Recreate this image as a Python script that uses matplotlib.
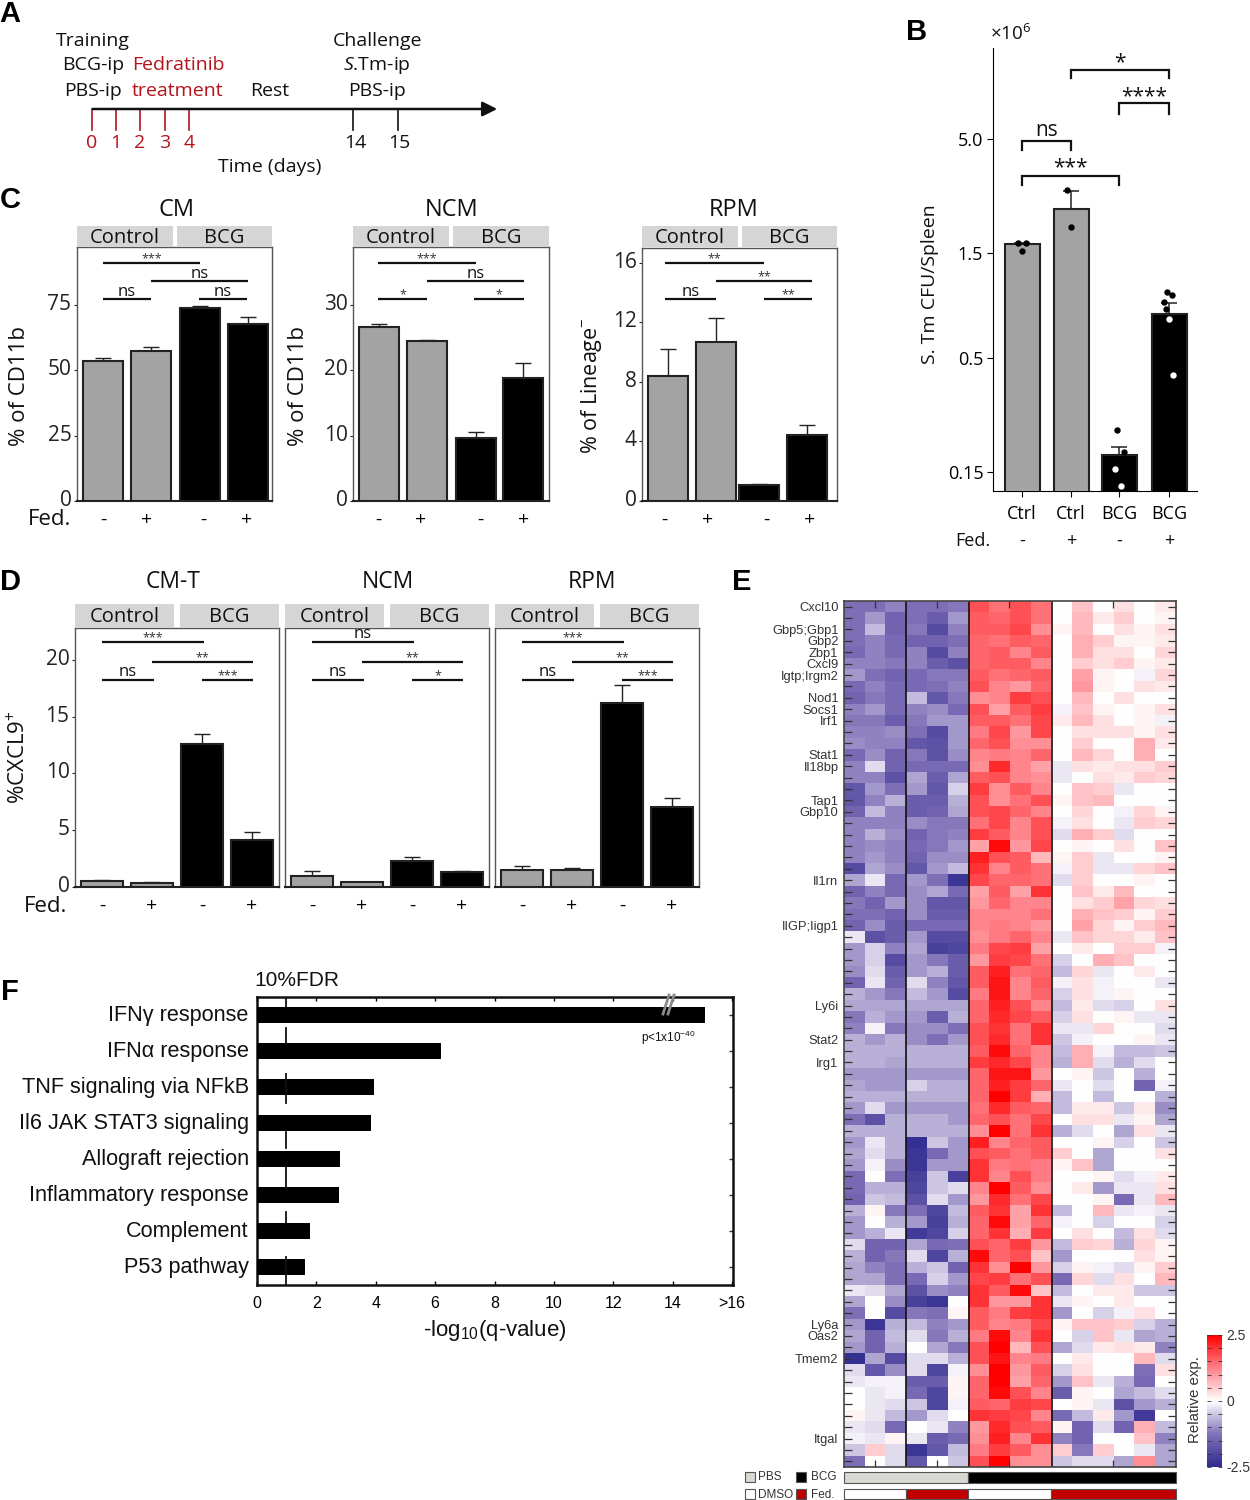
import numpy as np
import matplotlib
matplotlib.use('Agg')
import matplotlib.pyplot as plt
from matplotlib.colors import LinearSegmentedColormap
from matplotlib.patches import Rectangle
from matplotlib.transforms import ScaledTranslation

W, H = 1250, 1500

# panel B
b_labels = ['Ctrl', 'Ctrl', 'BCG', 'BCG']
b_means = [1.64, 2.39, 0.170, 0.78]
b_tops = [1.67, 2.89, 0.194, 0.885]
b_points = [[1.68, 1.68, 1.54], [2.92, 1.97], [0.234, 0.184, 0.154, 0.129],
            [0.995, 0.966, 0.902, 0.838, 0.75, 0.416]]

# panel C
cm_means = [53.5, 57.4, 73.8, 67.7]
cm_tops = [54.7, 59.0, 74.6, 70.5]
ncm_means = [26.7, 24.5, 9.6, 18.9]
ncm_tops = [27.1, 24.7, 10.55, 21.1]
rpm_means = [8.4, 10.7, 1.05, 4.44]
rpm_tops = [10.2, 12.3, 1.12, 5.13]

# panel D
cmt_d_means = [0.53, 0.38, 12.6, 4.1]
cmt_d_tops = [0.58, 0.40, 13.5, 4.8]
ncm_d_means = [0.95, 0.41, 2.3, 1.3]
ncm_d_tops = [1.42, 0.45, 2.63, 1.38]
rpm_d_means = [1.48, 1.48, 16.2, 7.06]
rpm_d_tops = [1.83, 1.68, 17.8, 7.83]

# panel F
f_terms = ['IFN\u03b3 response', 'IFN\u03b1 response', 'TNF signaling via NFkB',
           'Il6 JAK STAT3 signaling', 'Allograft rejection',
           'Inflammatory response', 'Complement', 'P53 pathway']
f_values = [15.1, 6.2, 3.95, 3.85, 2.8, 2.77, 1.77, 1.62]

# panel E, relative expression x10, columns PBS/DMSO, PBS/Fed, BCG/DMSO, BCG/Fed
heat_rows_top = [
    [-13,-13,-11,-13,-13,-12,17,14,17,14,0,6,0,3,0,2],
    [-13,-9,-15,-13,-16,-9,16,15,17,14,0,7,2,5,0,1],
    [-13,-6,-15,-12,-19,-11,16,16,18,11,1,7,0,3,1,3],
    [-13,-11,-14,-15,-15,-13,15,14,16,15,0,8,5,1,1,2],
    [-14,-11,-14,-11,-19,-11,15,16,12,16,0,8,3,3,0,4],
    [-11,-11,-12,-11,-16,-18,15,16,16,12,0,5,3,5,1,2],
    [-9,-13,-15,-14,-12,-12,16,14,15,16,0,9,1,0,-1,4],
    [-14,-11,-14,-14,-13,-11,17,12,10,15,0,10,1,0,3,2],
    [-15,-12,-14,-6,-17,-12,11,12,19,17,0,7,0,3,0,0],
    [-11,-9,-14,-11,-10,-14,17,9,16,19,-1,6,1,0,1,3],
    [-12,-12,-16,-12,-9,-9,16,16,14,18,2,7,3,0,1,-1],
    [-11,-11,-10,-13,-19,-9,13,18,10,18,0,3,3,3,1,3],
    [-10,-11,-11,-17,-18,-9,15,17,11,11,0,5,0,0,8,2],
    [-14,-10,-15,-12,-18,-10,12,13,12,15,0,7,4,0,8,0],
    [-11,-3,-15,-14,-14,-14,11,21,12,9,-2,3,2,3,3,5],
    [-11,-11,-18,-8,-16,-8,16,17,12,11,-2,0,3,2,5,4],
    [-17,-9,-13,-9,-17,-4,19,11,16,12,0,6,5,-2,0,0],
    [-17,-11,-7,-16,-16,-7,17,11,14,17,1,6,7,0,0,0],
    [-15,-6,-11,-16,-15,-8,17,18,15,12,0,4,0,-1,4,1],
    [-11,-11,-11,-10,-12,-12,14,18,12,17,-1,3,0,-2,5,4],
    [-11,-7,-10,-15,-12,-11,19,16,12,17,-3,8,5,-3,0,0],
    [-11,-10,-11,-14,-12,-9,9,24,10,18,0,1,0,3,0,6],
    [-11,-9,-11,-15,-10,-10,22,17,16,7,1,5,-2,0,0,1],
    [-19,-8,-10,-17,-9,-6,20,12,16,14,-1,5,-2,-2,4,6],
    [-8,-2,-14,-9,-13,-23,18,15,15,14,-3,5,0,0,1,0],
    [-15,-11,-14,-10,-8,-14,9,16,9,20,0,6,2,7,0,0],
]
heat_rows_mid = [
    [-12,-15,-9,-10,-17,-17,10,15,12,12,0,3,5,9,4,3],
    [-13,-13,-15,-10,-16,-16,12,12,12,14,0,8,6,5,1,5],
    [-15,-10,-16,-14,-14,-14,12,13,12,10,0,9,4,1,5,7],
    [-2,-18,-16,-9,-19,-19,11,13,15,12,-2,6,4,4,2,6],
    [-9,-4,-11,-8,-21,-20,13,18,19,9,0,2,0,5,5,-1],
    [-9,-4,-19,-9,-12,-16,10,19,18,14,-4,0,8,6,0,0],
    [-10,-3,-16,-9,-7,-16,16,22,14,15,-6,4,-2,0,2,0],
    [-15,-2,-15,-3,-11,-17,16,23,12,16,-1,3,-1,0,0,-2],
    [-7,-9,-12,-6,-9,-19,13,23,12,15,-4,3,-1,1,0,0],
    [-8,-8,-8,-8,-8,-8,15,22,17,12,-6,2,-3,-4,0,3],
    [-12,-7,-9,-9,-16,-7,15,21,18,16,-4,3,0,1,-2,-2],
    [-11,-1,-12,-10,-10,-13,17,20,14,20,-2,-2,4,0,0,-3],
    [-7,-9,-7,-10,-13,-9,17,21,14,20,-5,-1,0,0,1,-2],
    [-7,-7,-7,-7,-7,-7,16,24,15,12,-6,8,-1,-6,-6,-5],
    [-7,-7,-8,-7,-7,-7,19,21,18,12,-7,8,-3,-7,-3,0],
    [-9,-9,-9,-9,-9,-9,15,23,23,10,0,1,-5,0,-7,0],
    [-8,-9,-9,-4,-7,-7,15,22,19,15,-2,0,-3,0,-15,-1],
    [-7,-7,-7,-7,-7,-7,15,25,19,8,-6,0,-6,0,0,-7],
    [-9,-3,-9,-9,-9,-9,14,21,16,15,-6,2,2,-5,2,-10],
    [-13,-18,-7,-7,-7,-9,15,17,14,18,0,3,3,-2,1,-8],
    [-7,-7,-7,-7,-7,-7,11,25,14,20,-7,-3,0,-8,3,-2],
    [-9,-2,-7,-24,-5,-9,22,12,15,16,0,0,1,-4,0,-5],
    [-8,-3,-7,-23,-14,-9,17,16,14,16,5,0,-8,0,0,3],
    [-9,-1,-10,-23,-9,-9,20,13,14,13,1,6,-8,0,0,0],
    [-14,0,-13,-21,-5,-21,20,12,17,13,0,0,1,-3,-1,2],
]
heat_rows_low = [
    [-14,-7,-7,-20,-5,-3,12,25,16,11,0,2,-9,-2,-2,3],
    [-15,-5,-6,-18,-3,-9,10,21,14,18,0,0,1,-14,-2,7],
    [-7,1,-12,-13,-20,-6,16,20,9,20,-6,0,7,-2,-1,-2],
    [-9,0,-7,-9,-21,-7,15,24,9,15,-1,0,-4,0,0,-4],
    [-9,-7,-2,-22,-20,-4,15,20,8,19,0,3,0,-6,3,-3],
    [-3,-15,-15,-8,-14,-13,17,15,19,10,-6,5,4,-7,4,1],
    [-7,-15,-12,-3,-20,-7,24,15,17,6,-9,0,0,0,3,1],
    [-8,-11,-13,-7,-5,-15,20,11,25,10,-4,1,-1,-3,1,5],
    [-8,-8,-13,-14,-4,-9,18,19,14,17,-14,4,-3,3,0,7],
    [-2,-3,-8,-18,-10,-11,20,16,24,6,-6,0,2,2,-5,-5],
    [-8,0,-10,-21,-23,0,20,10,10,20,-2,1,0,2,0,0],
    [-13,0,-19,-12,-13,1,16,13,19,20,-9,0,-4,-1,3,0],
    [-9,-23,-7,-6,-11,-9,16,12,13,18,1,6,6,5,-4,-7],
    [-8,-15,-6,-3,-12,-7,13,24,12,20,0,-4,6,-2,-8,-7],
    [-9,-15,-7,0,-8,-12,17,25,7,17,-8,-3,2,3,2,-11],
    [-24,-8,-19,-3,-3,-7,17,23,12,13,0,2,0,0,7,-3],
    [-3,-17,-10,-3,-20,-1,11,25,10,16,-4,3,0,0,-13,3],
    [-2,-1,-1,-16,-16,1,15,25,9,15,-9,6,-2,-7,-14,0],
    [0,-2,-1,-14,-20,1,15,24,17,12,-16,1,0,-8,-6,-3],
    [0,-2,-3,-5,-20,-1,16,15,19,18,0,1,-2,-18,-9,-7],
    [1,-2,-6,-9,-3,0,20,19,18,12,-14,-6,2,-9,-22,0],
    [-2,-3,-14,0,-2,-11,10,21,17,16,1,-15,-3,-15,8,-6],
    [-1,-2,1,-2,-16,-14,11,22,12,20,-11,-15,0,0,6,-11],
    [-5,5,-3,-23,-17,-6,13,19,16,11,5,-12,5,0,-2,-8],
    [-13,0,-3,-17,0,-5,17,25,11,11,-5,-3,-3,-8,11,-8],
]
gene_rows = [0, 2, 3, 4, 5, 6, 8, 9, 10, 13, 14, 17, 18, 24, 28, 35, 38, 40, 63, 64, 66, 73]
gene_names = ['Cxcl10', 'Gbp5;Gbp1', 'Gbp2', 'Zbp1', 'Cxcl9', 'Igtp;Irgm2', 'Nod1',
              'Socs1', 'Irf1', 'Stat1', 'Il18bp', 'Tap1', 'Gbp10', 'Il1rn', 'IIGP;Iigp1',
              'Ly6i', 'Stat2', 'Irg1', 'Ly6a', 'Oas2', 'Tmem2', 'Itgal']

plt.rcParams['font.family'] = ['Open Sans', 'DejaVu Sans']
plt.rcParams['mathtext.fontset'] = 'custom'
plt.rcParams['mathtext.rm'] = 'Open Sans'
plt.rcParams['mathtext.it'] = 'Open Sans:italic'
plt.rcParams['mathtext.default'] = 'regular'

NARROW = ['Liberation Sans Narrow', 'Liberation Sans']
GRAY = '#a3a3a3'
STRIP = '#d5d5d5'
RED = '#b5121b'

fig = plt.figure(figsize=(12.5, 15), dpi=100)


def add_box(x0, y0, x1, y1):
    return fig.add_axes([x0 / W, 1 - y1 / H, (x1 - x0) / W, (y1 - y0) / H])


# overlay in picture pixels for labels, brackets, strips
ov = fig.add_axes([0, 0, 1, 1], zorder=10)
ov.set_xlim(0, W)
ov.set_ylim(H, 0)
ov.axis('off')


def label(x, y, s, size=14.5, color='#111111', ha='center', **kw):
    # open sans sits a little high when centred
    dy = 0 if kw.get('rotation') else 1.5
    ov.text(x, y + dy, s, fontsize=size, color=color, ha=ha, va='center', **kw)


def bar_panel(box, centers, fed_pos, means, tops, ymax, yticks, barw):
    ax = add_box(*box)
    ax.set_xlim(box[0], box[2])
    ax.set_ylim(0, ymax)
    colors = [GRAY, GRAY, 'black', 'black']
    yerr = [np.zeros(4), np.array(tops) - np.array(means)]
    ax.errorbar(centers, means, yerr=yerr, fmt='none', ecolor='#222222', elinewidth=1,
                capsize=6, capthick=1, zorder=2)
    ax.bar(centers, means, width=barw, color=colors, edgecolor='#222222', linewidth=1.5, zorder=3)
    for s in ['top', 'left', 'right']:
        ax.spines[s].set_color('#555555')
        ax.spines[s].set_linewidth(1)
    ax.spines['bottom'].set_color('#222222')
    ax.spines['bottom'].set_linewidth(1.5)
    ax.set_xticks(fed_pos)
    ax.set_xticklabels(['-', '+', '-', '+'], fontsize=14)
    ax.tick_params(axis='x', length=0, pad=7)
    ax.set_yticks(yticks)
    if yticks:
        ax.tick_params(axis='y', length=2, width=0.8, labelsize=15, pad=2, colors='#222222')
        up = ScaledTranslation(0, 3 / 100, fig.dpi_scale_trans)
        for t in ax.get_yticklabels():
            t.set_transform(t.get_transform() + up)
    return ax


def sig_lines(lines, dx=0, size=9):
    for x0, x1, y, s in lines:
        ov.plot([x0 + dx, x1 + dx], [y, y], color='#111111', lw=1.6, solid_capstyle='butt')
        if s == 'ns':
            label((x0 + x1) / 2 + dx, y - 9, s, size=12)
        else:
            label((x0 + x1) / 2 + dx, y - 6, s, size=size, color='#333333')


def strips(x0, x1, x2, x3, y0, y1, size=14.5):
    for a, b, s in [(x0, x1, 'Control'), (x2, x3, 'BCG')]:
        ov.add_patch(Rectangle((a, y0), b - a, y1 - y0, color=STRIP, lw=0, zorder=0))
        label((a + b) / 2, (y0 + y1) / 2, s, size=size)


# panel letters
for x, y, s in [(10, 13, 'A'), (917, 31, 'B'), (10, 198, 'C'), (10, 581, 'D'),
                (742, 580, 'E'), (10, 990, 'F')]:
    label(x, y, s, size=21, color='black', fontweight='bold', family='Liberation Sans')

# panel A
ov.annotate('', xy=(500, 109), xytext=(90, 109),
            arrowprops=dict(arrowstyle='-|>', color='#111111', lw=1.8, mutation_scale=22))
for x, s in zip([92, 116, 140, 165, 189], ['0', '1', '2', '3', '4']):
    ov.plot([x, x], [109, 130], color=RED, lw=1.2)
    label(x, 142, s, color=RED, size=14)
for x, tx, s in [(353, 355, '14'), (398, 399, '15')]:
    ov.plot([x, x], [109, 130], color='#111111', lw=1.2)
    label(tx, 142, s, size=14)
for x, y, s, c in [(93, 39, 'Training', '#111111'), (93, 64, 'BCG-ip', '#111111'),
                   (93, 90, 'PBS-ip', '#111111'), (178, 64, 'Fedratinib', RED),
                   (178, 90, 'treatment', RED), (270, 90, 'Rest', '#111111'),
                   (377, 39, 'Challenge', '#111111'), (377, 64, r'$\mathit{S}$.Tm-ip', '#111111'),
                   (377, 90, 'PBS-ip', '#111111'), (270, 166, 'Time (days)', '#111111')]:
    label(x, y, s, color=c, size=14)

# panel B
ax_b = add_box(993, 48, 1197, 491)
ax_b.set_yscale('log')
ax_b.set_xlim(993, 1197)
ax_b.set_ylim(0.1226, 13.04)
b_x = [1022, 1071, 1119, 1169]
b_colors = [GRAY, GRAY, 'black', 'black']
yerr_b = [np.zeros(4), np.array(b_tops) - np.array(b_means)]
ax_b.errorbar(b_x, b_means, yerr=yerr_b, fmt='none', ecolor='#222222', elinewidth=1.1,
              capsize=6, capthick=1.1, zorder=2)
ax_b.bar(b_x, b_means, bottom=0.01, width=35, color=b_colors, edgecolor='#222222', linewidth=1.5, zorder=3)
offsets = [[-4, 4, 0], [-4, 0], [-2, 5, -4, 2], [-2, 3, -5, -3, 0, 4]]
for x, pts, off, m in zip(b_x, b_points, offsets, b_means):
    for p, o in zip(pts, off):
        # points that sit on a black bar turn white
        inside = m < 1 and p < m
        ax_b.plot(x + o, p, 'o', ms=4.6, color='white' if inside else 'black', mec='none', zorder=5)
for s in ['top', 'right']:
    ax_b.spines[s].set_visible(False)
ax_b.set_yticks([5, 1.5, 0.5, 0.15])
ax_b.set_yticklabels(['5.0', '1.5', '0.5', '0.15'], fontsize=13)
ax_b.minorticks_off()
ax_b.set_xticks(b_x)
ax_b.set_xticklabels(b_labels, fontsize=13)
ax_b.tick_params(axis='x', length=4, pad=6)
ax_b.tick_params(axis='y', length=4, pad=3)
label(1011, 32, '\u00d710$^{6}$', size=13.5)
label(930, 284, 'S. Tm CFU/Spleen', size=14, rotation=90)
label(973, 540, 'Fed.', size=13)
for x, s in zip(b_x, ['-', '+', '-', '+']):
    label(x, 539, s, size=13)
for x0, x1, y, leg, s, sz, ty in [(1071, 1169, 70, 78, '*', 15, 61), (1119, 1169, 103, 114, '****', 15, 95),
                                  (1022, 1071, 141, 150, 'ns', 15, 129), (1022, 1119, 176, 185, '***', 15, 166)]:
    ov.plot([x0, x0, x1, x1], [leg, y, y, leg], color='#111111', lw=1.6, solid_joinstyle='miter')
    label((x0 + x1) / 2, ty, s, size=sz)

# panel C
ax_cm = bar_panel((77, 247, 272, 501), [103, 151, 200, 248], [103, 147, 203, 247], cm_means, cm_tops,
                  97.3, [0, 25, 50, 75], 40)
ax_ncm = bar_panel((353, 247, 549, 501), [379, 427, 476, 523], [378, 421, 480, 524], ncm_means, ncm_tops,
                   38.9, [0, 10, 20, 30], 40)
ax_rpm = bar_panel((642, 248, 837, 501), [668, 716, 759, 807], [664, 708, 766, 810], rpm_means, rpm_tops,
                   17, [0, 4, 8, 12, 16], 40)
for x, s in [(176, 'CM'), (452, 'NCM'), (734, 'RPM')]:
    label(x, 208, s, size=17)
strips(77, 173, 177, 272, 226, 247)
strips(353, 449, 453, 549, 226, 247)
strips(642, 738, 742, 837, 226, 247)
label(50, 518, 'Fed.', size=16)
label(20, 386, '% of CD11b', size=16, rotation=90)
label(298, 386, '% of CD11b', size=16, rotation=90)
label(591, 386, '% of Lineage$^{-}$', size=15.5, rotation=90)
sig_lines([(103, 200, 263, '***'), (151, 248, 281, 'ns'), (103, 151, 299, 'ns'), (199, 247, 299, 'ns')])
sig_lines([(378, 476, 263, '***'), (427, 524, 281, 'ns'), (378, 427, 299, '*'), (474, 524, 299, '*')])
sig_lines([(665, 764, 263, '**'), (716, 812, 281, '**'), (665, 716, 299, 'ns'), (764, 812, 299, '**')])

# panel D
d_ymax = 22.8
ax_d1 = bar_panel((75, 628, 279, 887), [102, 152, 202, 252], [102, 152, 202, 252], cmt_d_means, cmt_d_tops,
                  d_ymax, [0, 5, 10, 15, 20], 42)
ax_d2 = bar_panel((285, 628, 489, 887), [312, 362, 412, 462], [312, 362, 412, 462], ncm_d_means, ncm_d_tops,
                  d_ymax, [], 42)
ax_d3 = bar_panel((495, 628, 699, 887), [522, 572, 622, 672], [522, 572, 622, 672], rpm_d_means, rpm_d_tops,
                  d_ymax, [], 42)
for x, s in [(173, 'CM-T'), (388, 'NCM'), (592, 'RPM')]:
    label(x, 581, s, size=16.5)
for dx in [0, 210, 420]:
    strips(75 + dx, 174 + dx, 180 + dx, 279 + dx, 604, 628)
label(46, 905, 'Fed.', size=16)
label(18, 757, '%CXCL9$^{+}$', size=16, rotation=90)
sig_lines([(102, 204, 642, '***'), (152, 253, 662, '**'), (102, 154, 680, 'ns'), (202, 253, 680, '***')])
sig_lines([(102, 204, 642, 'ns'), (152, 253, 662, '**'), (102, 154, 680, 'ns'), (202, 253, 680, '*')], dx=210)
sig_lines([(102, 204, 642, '***'), (152, 253, 662, '**'), (102, 154, 680, 'ns'), (202, 253, 680, '***')], dx=420)

# panel E
heat = np.vstack([heat_rows_top, heat_rows_mid, heat_rows_low]) / 10.0
cmap = LinearSegmentedColormap.from_list('heat', [(0, '#2e2a8f'), (0.25, '#8272b8'), (0.5, '#ffffff'),
                                                  (0.75, '#ff8088'), (1, '#ff0000')])
ax_e = add_box(844, 601, 1176, 1467)
im = ax_e.imshow(heat, cmap=cmap, vmin=-2.5, vmax=2.5, aspect='auto', interpolation='nearest')
for x in [2.5, 5.5, 9.5]:
    ax_e.axvline(x, color='#111111', lw=1.2)
ax_e.set_yticks(np.arange(heat.shape[0]))
tick_text = [''] * heat.shape[0]
for r, g in zip(gene_rows, gene_names):
    tick_text[r] = g
ax_e.set_yticklabels(tick_text, fontsize=9.3, color='#333333', family='Liberation Sans')
ax_e.set_xticks([1, 4, 7.45, 12.46])
ax_e.set_xticklabels([])
ax_e.tick_params(axis='y', direction='in', length=5.5, width=0.9, left=True, right=True, pad=4, color='#333333')
ax_e.tick_params(axis='x', direction='in', length=5, width=0.9, top=True, bottom=True, color='#333333')
for s in ax_e.spines.values():
    s.set_color('#444444')
    s.set_linewidth(1.2)

cax = add_box(1207, 1335, 1222, 1467)
cb = fig.colorbar(im, cax=cax)
cb.set_ticks([-2.5, -2, -1.5, -1, -0.5, 0, 0.5, 1, 1.5, 2, 2.5])
cb.set_ticklabels(['-2.5', '', '', '', '', '0', '', '', '', '', '2.5'])
cb.ax.tick_params(direction='in', length=3, width=0.6, left=True, right=True, labelsize=10, pad=3, colors='#333333')
cb.outline.set_visible(False)
for t in cb.ax.get_yticklabels():
    t.set_family('Liberation Sans')
label(1195, 1400, 'Relative exp.', size=10.8, rotation=90, family='Liberation Sans', color='#333333')

# annotation bars under the heatmap
for x0, x1, c in [(844, 968, '#d9d9d3'), (968, 1176, 'black')]:
    ov.add_patch(Rectangle((x0, 1472), x1 - x0, 11, facecolor=c, edgecolor='#555555', lw=0.8))
for x0, x1, c in [(844, 906, 'white'), (906, 968, '#c00000'), (968, 1051, 'white'), (1051, 1176, '#c00000')]:
    ov.add_patch(Rectangle((x0, 1489), x1 - x0, 10, facecolor=c, edgecolor='#555555', lw=0.8))
for x, y, c, tx, s in [(745, 1472, '#d9d9d3', 758, 'PBS'), (796, 1472, 'black', 811, 'BCG'),
                       (745, 1489, 'white', 758, 'DMSO'), (796, 1489, '#c00000', 811, 'Fed.')]:
    ov.add_patch(Rectangle((x, y), 10, 10, facecolor=c, edgecolor='#555555', lw=0.8))
    label(tx, y + 4, s, size=8.5, ha='left', family='Liberation Sans', color='#333333')

# panel F
ax_f = add_box(257, 997, 733, 1285)
ax_f.set_xlim(0, 16.03)
ax_f.set_ylim(7.5, -0.5)
ax_f.barh(np.arange(len(f_values)), f_values, height=0.46, color='black', zorder=3)
ax_f.set_yticks(np.arange(len(f_values)))
ax_f.set_yticklabels(f_terms, fontsize=15.6, family=NARROW, color='#111111')
ax_f.set_xticks(np.arange(0, 17, 2))
ax_f.set_xticklabels(['0', '2', '4', '6', '8', '10', '12', '14', '>16'], fontsize=11.5, family=NARROW)
ax_f.tick_params(axis='y', direction='in', length=3, right=True, left=True, pad=6, color='#333333', width=1)
ax_f.tick_params(axis='x', direction='in', length=3, top=True, bottom=True, pad=8, width=1)
up_f = ScaledTranslation(0, 2 / 100, fig.dpi_scale_trans)
for t in ax_f.get_yticklabels():
    t.set_transform(t.get_transform() + up_f)
for s in ax_f.spines.values():
    s.set_linewidth(1.8)
    s.set_color('#111111')
for y0, y1 in [(998, 1007), (1028, 1043), (1074, 1103), (1132, 1148), (1167, 1188), (1212, 1224), (1257, 1285)]:
    ov.plot([286, 286], [y0, y1], color='#111111', lw=1.3)
for dx in [0, 5]:
    ov.plot([663 + dx, 669 + dx], [1014, 995], color='#8a8a8a', lw=2)
label(297, 979, '10%FDR', size=15, family=NARROW)
label(668, 1036, 'p<1x10$^{-40}$', size=8.5, family=NARROW)
label(495, 1329, r'-log$_{10}$(q-value)', size=16, family=NARROW)

fig.savefig('out.png', dpi=100, facecolor='white')
